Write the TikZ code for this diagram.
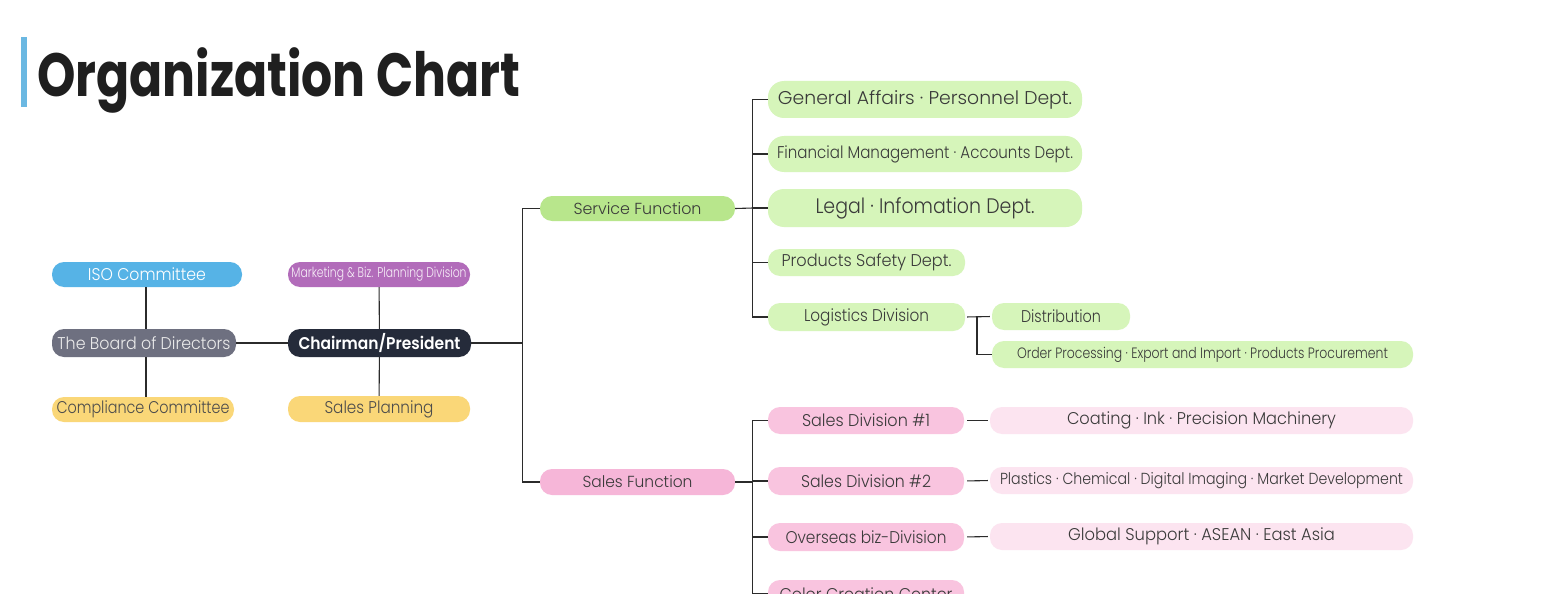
\documentclass[tikz,border=0pt]{standalone}
\usepackage{fontspec}
\setmainfont{Poppins}[UprightFont=* Light, BoldFont=* SemiBold]
\newfontfamily\titlefont{Poppins}[UprightFont=* Bold]
\usepackage{graphicx}
\usetikzlibrary{calc}
\definecolor{isoblue}{HTML}{56B3E6}
\definecolor{boardgray}{HTML}{6E7080}
\definecolor{ylw}{HTML}{FAD778}
\definecolor{purp}{HTML}{B26CBA}
\definecolor{navy}{HTML}{252B3A}
\definecolor{grn}{HTML}{B8E68C}
\definecolor{lgrn}{HTML}{D6F5BA}
\definecolor{pnk}{HTML}{F6B6D8}
\definecolor{mpnk}{HTML}{F9C4DF}
\definecolor{lpnk}{HTML}{FCE4F0}
\definecolor{txt}{HTML}{3A3A3A}
\definecolor{lines}{HTML}{2B2B2B}
\definecolor{titleblue}{HTML}{6BB8E2}
\newcommand\fw[3]{\resizebox{#1pt}{\height}{\fontsize{#2}{#2}\selectfont #3}}
\tikzset{
  pill/.style={rectangle, inner sep=0pt, rounded corners=12pt, text=txt},
  conn/.style={draw=lines, line width=1.1pt},
}
\begin{document}
\begin{tikzpicture}[x=1pt,y=-1pt]
\useasboundingbox (0,0) rectangle (1560,599);
\fill[white] (0,0) rectangle (1560,599);
\clip (0,0) rectangle (1560,593);
% title
\fill[titleblue] (21,37) rectangle (27,107);
\node[anchor=base west, inner sep=0pt, text=black!88] (title) at (37,97) {\fw{483}{61}{\titlefont Organization Chart}};
% left group
\node[pill, fill=isoblue, minimum width=190pt, minimum height=25pt, text=white] (iso) at (147,274.5) {\fw{118}{17}{ISO Committee}};
\node[pill, fill=boardgray, minimum width=184pt, minimum height=28pt, text=white!92!black] (board) at (144,343) {\fw{173}{17}{The Board of Directors}};
\node[pill, fill=ylw, minimum width=182pt, minimum height=25pt, text=black!70] (comp) at (143,409.5) {\fw{173}{17}{Compliance Committee}};
\node[pill, fill=purp, minimum width=182pt, minimum height=25pt, text=white!90!purp] (mkt) at (379,274.5) {\fw{175}{14}{Marketing \& Biz. Planning Division}};
\node[pill, fill=navy, minimum width=183pt, minimum height=28pt, text=white] (chair) at (379.5,343) {\fw{162}{17}{\bfseries Chairman/President}};
\node[pill, fill=ylw, minimum width=182pt, minimum height=26pt, text=black!70] (splan) at (379,409) {\fw{109}{17}{Sales Planning}};
% functions
\node[pill, fill=grn, minimum width=195pt, minimum height=25pt] (svc) at (637.5,208.5) {\fw{128}{16}{Service Function}};
\node[pill, fill=pnk, minimum width=195pt, minimum height=26pt] (salesf) at (637.5,482) {\fw{110}{16}{Sales Function}};
% service children
\node[pill, fill=lgrn, rounded corners=16pt, minimum width=314pt, minimum height=37pt] (ga) at (925,99.5) {\fw{294}{18.5}{General Affairs · Personnel Dept.}};
\node[pill, fill=lgrn, rounded corners=16pt, minimum width=314pt, minimum height=36pt] (fin) at (925,154) {\fw{296}{17}{Financial Management · Accounts Dept.}};
\node[pill, fill=lgrn, rounded corners=16pt, minimum width=314pt, minimum height=38pt] (legal) at (925,208) {\fw{219}{21}{Legal · Infomation Dept.}};
\node[pill, fill=lgrn, minimum width=197pt, minimum height=27pt] (ps) at (866.5,262.5) {\fw{170}{17}{Products Safety Dept.}};
\node[pill, fill=lgrn, minimum width=197pt, minimum height=28pt] (log) at (866.5,317) {\fw{125}{17}{Logistics Division}};
\node[pill, fill=lgrn, minimum width=138pt, minimum height=27pt] (dist) at (1061,316.5) {\fw{80}{17}{Distribution}};
\node[pill, fill=lgrn, minimum width=421pt, minimum height=27pt] (ord) at (1202.5,354.5) {\fw{371}{15}{Order Processing · Export and Import · Products Procurement}};
% sales children
\node[pill, fill=mpnk, minimum width=196pt, minimum height=27pt] (sd1) at (866,420.5) {\fw{128}{17}{Sales Division \#1}};
\node[pill, fill=mpnk, minimum width=196pt, minimum height=28pt] (sd2) at (866,481) {\fw{130}{17}{Sales Division \#2}};
\node[pill, fill=mpnk, minimum width=196pt, minimum height=28pt] (ovs) at (866,537) {\fw{161}{17}{Overseas biz-Division}};
\node[pill, fill=mpnk, minimum width=196pt, minimum height=28pt] (ccc) at (866,594) {\fw{173}{17}{Color Creation Center}};
\node[pill, fill=lpnk, minimum width=423pt, minimum height=27pt] (coat) at (1201.5,420.5) {\fw{269}{17}{Coating · Ink · Precision Machinery}};
\node[pill, fill=lpnk, minimum width=423pt, minimum height=27pt] (plas) at (1201.5,480.5) {\fw{403}{16}{Plastics · Chemical · Digital Imaging · Market Development}};
\node[pill, fill=lpnk, minimum width=423pt, minimum height=27pt] (glob) at (1201.5,536.5) {\fw{267}{17}{Global Support · ASEAN · East Asia}};
% connectors
\coordinate (jA) at (523,343);
\coordinate (jB) at (753,208);
\coordinate (jC) at (753,482);
\coordinate (jD) at (977,317);
\draw[conn] (iso.south -| 146,0) -- (board.north -| 146,0);
\draw[conn] (board.south -| 146,0) -- (comp.north -| 146,0);
\draw[conn] (board) -- (chair);
\draw[conn] (mkt) -- (chair);
\draw[conn] (chair) -- (splan);
\draw[conn] (chair.east) -- (jA);
\draw[conn] (svc.west) -- ++(-17,0) |- (salesf.west);
\draw[conn] (svc.east) -- (jB);
\draw[conn] (ga.west) -- ++(-15,0) |- (log.west);
\draw[conn] (fin.west) -- ++(-15,0);
\draw[conn] (legal.west) -- ++(-15,0);
\draw[conn] (ps.west) -- ++(-15,0);
\draw[conn, shorten <=2pt, shorten >=2pt] (log.east) -- (dist.west);
\draw[conn] (jD) |- (ord.west);
\draw[conn] (salesf.east) -- (jC);
\draw[conn] (sd1.west) -- ++(-15,0) |- (ccc.west);
\draw[conn] (sd2.west) -- ++(-15,0);
\draw[conn] (ovs.west) -- ++(-15,0);
\draw[conn, shorten <=3pt, shorten >=2pt] (sd1.east) -- (coat.west);
\draw[conn, shorten <=3pt, shorten >=2pt] (sd2.east) -- (plas.west);
\draw[conn, shorten <=3pt, shorten >=2pt] (ovs.east) -- (glob.west);
\end{tikzpicture}
\end{document}
